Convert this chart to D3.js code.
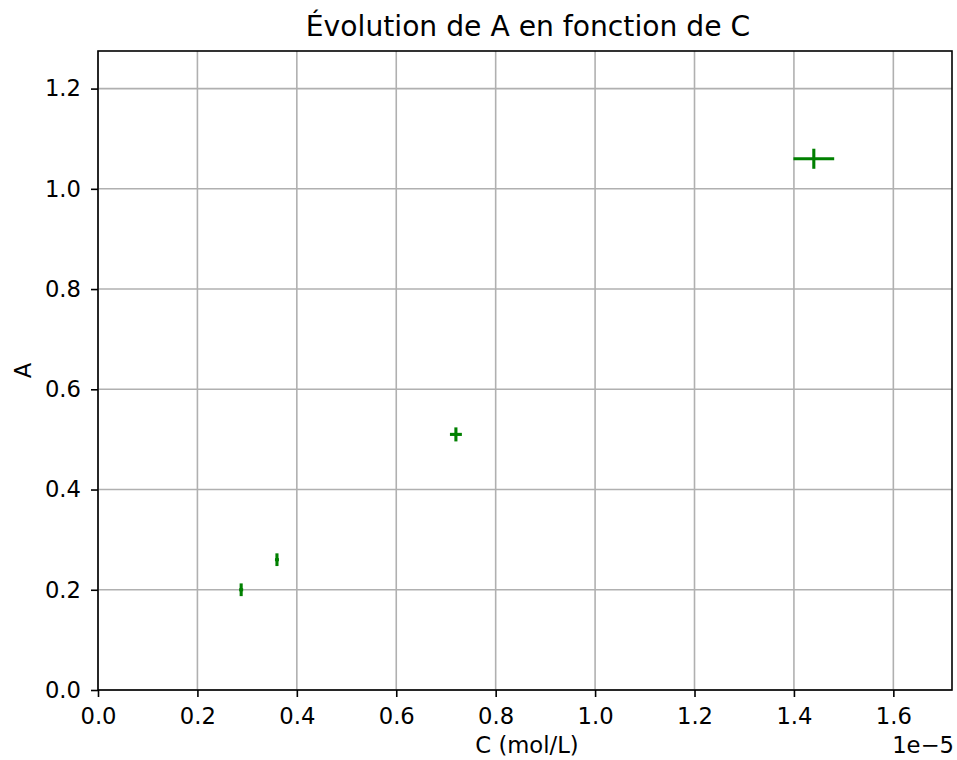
<!DOCTYPE html>
<html>
<head>
<meta charset="utf-8">
<script src="https://cdn.jsdelivr.net/npm/d3@7"></script>
<style>
  body { margin: 0; background: #fff; }
  text { font-family: "DejaVu Sans", sans-serif; fill: #000; }
</style>
</head>
<body>
<div id="chart"></div>
<script>
// measurements (C in units of 1e-5 mol/L)
const concentrations = [0.288, 0.36, 0.72, 1.44];
const absorbances = [0.20, 0.26, 0.51, 1.06];
const cErrors = [0.004, 0.004, 0.012, 0.041];
const aErrors = [0.0127, 0.0127, 0.014, 0.02];
const xTicks = [0, 0.2, 0.4, 0.6, 0.8, 1.0, 1.2, 1.4, 1.6];
const yTicks = [0, 0.2, 0.4, 0.6, 0.8, 1.0, 1.2];

const width = 957, height = 760;
const margin = {top: 51, right: 5, bottom: 70, left: 98};
const fs = "22.7px";

const svg = d3.select("#chart").append("svg")
    .attr("width", width)
    .attr("height", height);

const x = d3.scaleLinear().domain([0, 1.718]).range([margin.left, width - margin.right]);
const y = d3.scaleLinear().domain([0, 1.275]).range([height - margin.bottom, margin.top]);

// grid
svg.append("g").selectAll("line").data(xTicks).enter().append("line")
    .attr("x1", d => x(d)).attr("x2", d => x(d))
    .attr("y1", y.range()[0]).attr("y2", y.range()[1])
    .attr("stroke", "#b0b0b0").attr("stroke-width", 1.6);
svg.append("g").selectAll("line").data(yTicks).enter().append("line")
    .attr("x1", x.range()[0]).attr("x2", x.range()[1])
    .attr("y1", d => y(d)).attr("y2", d => y(d))
    .attr("stroke", "#b0b0b0").attr("stroke-width", 1.6);

// error bars
const pts = concentrations.map((c, i) => ({c: c, a: absorbances[i], ce: cErrors[i], ae: aErrors[i]}));
const eb = svg.append("g").attr("stroke", "#008000").attr("stroke-width", 3.1);
eb.selectAll(".h").data(pts).enter().append("line")
    .attr("x1", d => x(d.c - d.ce)).attr("x2", d => x(d.c + d.ce))
    .attr("y1", d => y(d.a)).attr("y2", d => y(d.a));
eb.selectAll(".v").data(pts).enter().append("line")
    .attr("x1", d => x(d.c)).attr("x2", d => x(d.c))
    .attr("y1", d => y(d.a - d.ae)).attr("y2", d => y(d.a + d.ae));

// axes
const xAxis = d3.axisBottom(x).tickValues(xTicks).tickSize(7).tickPadding(11).tickFormat(d3.format(".1f"));
const yAxis = d3.axisLeft(y).tickValues(yTicks).tickSize(7).tickPadding(10).tickFormat(d3.format(".1f"));

const gx = svg.append("g").attr("transform", `translate(0,${height - margin.bottom})`).call(xAxis);
const gy = svg.append("g").attr("transform", `translate(${margin.left},0)`).call(yAxis);
[gx, gy].forEach(g => {
    g.select(".domain").remove();
    g.selectAll("line").attr("stroke", "#000").attr("stroke-width", 1.6);
    g.selectAll("text").attr("font-size", fs).attr("font-family", "DejaVu Sans");
});

// frame
svg.append("rect")
    .attr("x", margin.left).attr("y", margin.top)
    .attr("width", width - margin.right - margin.left)
    .attr("height", height - margin.bottom - margin.top)
    .attr("fill", "none").attr("stroke", "#000").attr("stroke-width", 1.6);

// labels
svg.append("text")
    .attr("x", 528).attr("y", 36)
    .attr("text-anchor", "middle").attr("font-size", "28.2px")
    .text("Évolution de A en fonction de C");

svg.append("text")
    .attr("x", 527).attr("y", 753)
    .attr("text-anchor", "middle").attr("font-size", fs)
    .text("C (mol/L)");

svg.append("text")
    .attr("transform", `translate(31,${(margin.top + height - margin.bottom) / 2}) rotate(-90)`)
    .attr("text-anchor", "middle").attr("font-size", fs)
    .text("A");

svg.append("text")
    .attr("x", 954).attr("y", 753)
    .attr("text-anchor", "end").attr("font-size", fs)
    .text("1e−5");
</script>
</body>
</html>
